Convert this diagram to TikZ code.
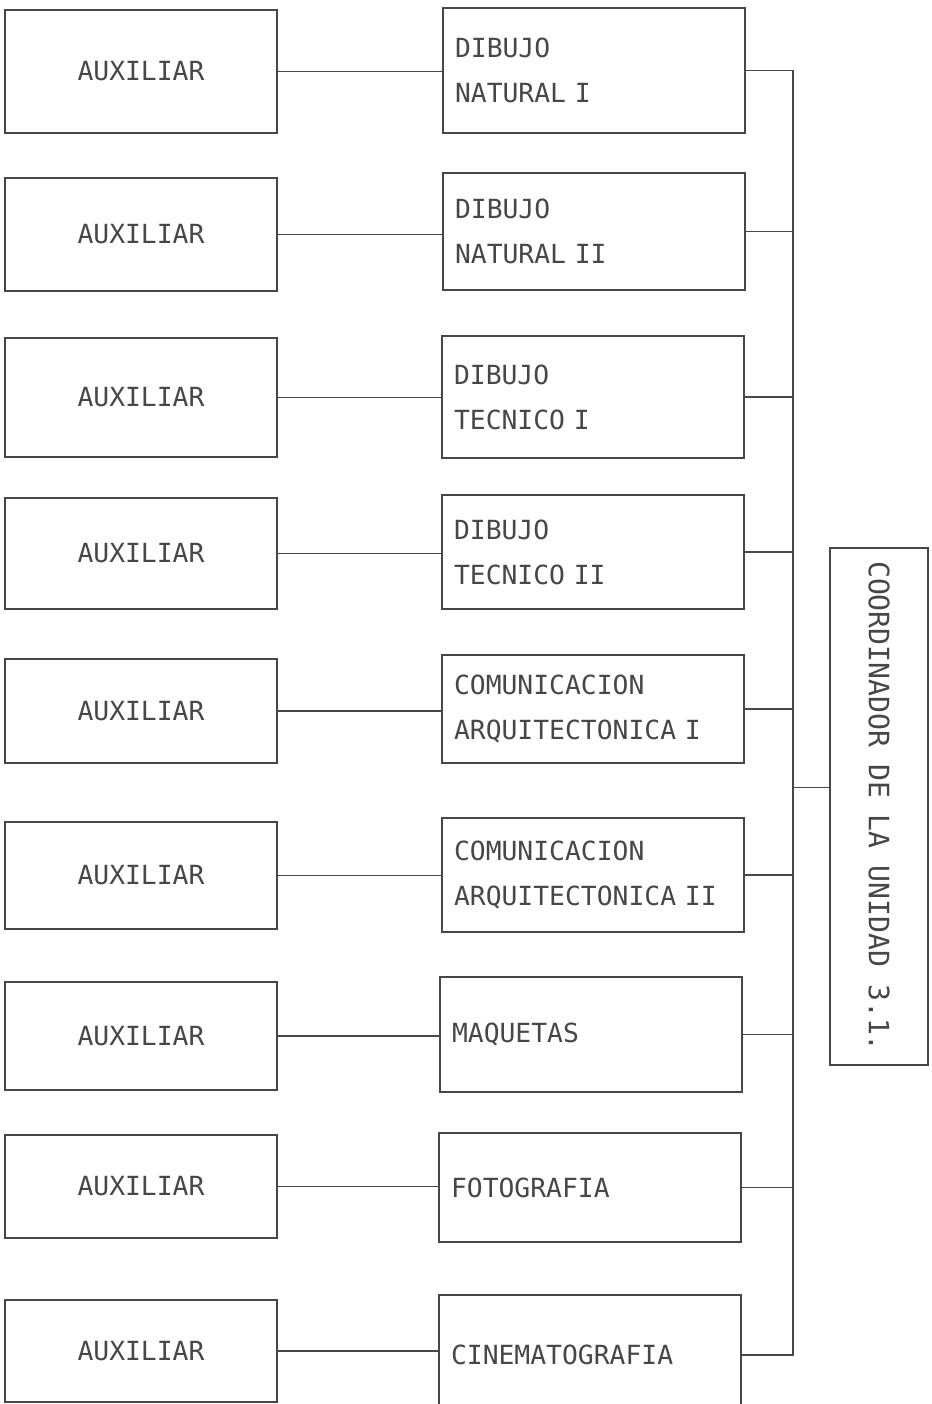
\documentclass[tikz,border=0pt]{standalone}
\usepackage{fontspec}
\setmonofont{DejaVu Sans Mono}
\usepackage{tikz}
\usepackage{xcolor}
\usetikzlibrary{shapes}
\definecolor{ink}{gray}{0.28}
\tikzset{
  boxfont/.style={font=\ttfamily\fontsize{15}{25.5}\selectfont,text=ink},
  aux/.style={draw=ink,line width=1.5pt,rectangle,minimum width=5.44cm,boxfont},
  sub/.style={draw=ink,line width=1.5pt,rectangle,text width=5.56cm,inner xsep=0.24cm,align=left,boxfont},
  coord/.style={draw=ink,line width=1.5pt,rectangle,minimum width=10.34cm,minimum height=1.96cm,boxfont,font=\ttfamily\fontsize{16}{25.5}\selectfont},
  wire/.style={draw=ink,line width=0.8pt}
}
\begin{document}
\begin{tikzpicture}[x=0.02cm,y=-0.02cm]
\useasboundingbox (0,0) rectangle (932,1404);
\clip (0,0) rectangle (932,1404);

%
\node[aux,minimum height=2.46cm] (a1) at (141,71.5) {AUXILIAR};
\node[sub,minimum height=2.50cm] (m1) at (594,70.5) {DIBUJO\\NATURAL I};
\node[aux,minimum height=2.26cm] (a2) at (141,234.5) {AUXILIAR};
\node[sub,minimum height=2.34cm] (m2) at (594,231.5) {DIBUJO\\NATURAL II};
\node[aux,minimum height=2.38cm] (a3) at (141,397.5) {AUXILIAR};
\node[sub,minimum height=2.44cm] (m3) at (593,397) {DIBUJO\\TECNICO I};
\node[aux,minimum height=2.22cm] (a4) at (141,553.5) {AUXILIAR};
\node[sub,minimum height=2.28cm] (m4) at (593,552) {DIBUJO\\TECNICO II};
\node[aux,minimum height=2.08cm] (a5) at (141,711) {AUXILIAR};
\node[sub,minimum height=2.16cm] (m5) at (593,709) {COMUNICACION\\ARQUITECTONICA I};
\node[aux,minimum height=2.14cm] (a6) at (141,875.5) {AUXILIAR};
\node[sub,minimum height=2.28cm] (m6) at (593,875) {COMUNICACION\\ARQUITECTONICA II};
\node[aux,minimum height=2.16cm] (a7) at (141,1036) {AUXILIAR};
\node[sub,minimum height=2.30cm] (m7) at (591,1034.5) {MAQUETAS};
\node[aux,minimum height=2.06cm] (a8) at (141,1186.5) {AUXILIAR};
\node[sub,minimum height=2.18cm] (m8) at (590,1187.5) {FOTOGRAFIA};
\node[aux,minimum height=2.04cm] (a9) at (141,1351) {AUXILIAR};
\node[sub,minimum height=2.40cm] (m9) at (590,1355) {CINEMATOGRAFIA};

\node[coord,rotate=-90] (coord) at (879,806.5) {COORDINADOR DE LA UNIDAD 3.1.};
\coordinate (bus) at (793,0);

\draw[wire] (a1.east) -- (a1.east -| m1.west);
\draw[wire] (a2.east) -- (a2.east -| m2.west);
\draw[wire] (a3.east) -- (a3.east -| m3.west);
\draw[wire] (a4.east) -- (a4.east -| m4.west);
\draw[wire] (a5.east) -- (a5.east -| m5.west);
\draw[wire] (a6.east) -- (a6.east -| m6.west);
\draw[wire] (a7.east) -- (a7.east -| m7.west);
\draw[wire] (a8.east) -- (a8.east -| m8.west);
\draw[wire] (a9.east) -- (a9.east -| m9.west);

\draw[wire] (m1.east) -- (m1.east -| bus) -- (m9.east -| bus) -- (m9.east);
\draw[wire] (m2.east) -- (m2.east -| bus);
\draw[wire] (m3.east) -- (m3.east -| bus);
\draw[wire] (m4.east) -- (m4.east -| bus);
\draw[wire] (m5.east) -- (m5.east -| bus);
\draw[wire] (m6.east) -- (m6.east -| bus);
\draw[wire] (m7.east) -- (m7.east -| bus);
\draw[wire] (m8.east) -- (m8.east -| bus);
\draw[wire] ([yshift=0.38cm]coord.south) -- ([yshift=0.38cm]coord.south -| bus);

\end{tikzpicture}
\end{document}
